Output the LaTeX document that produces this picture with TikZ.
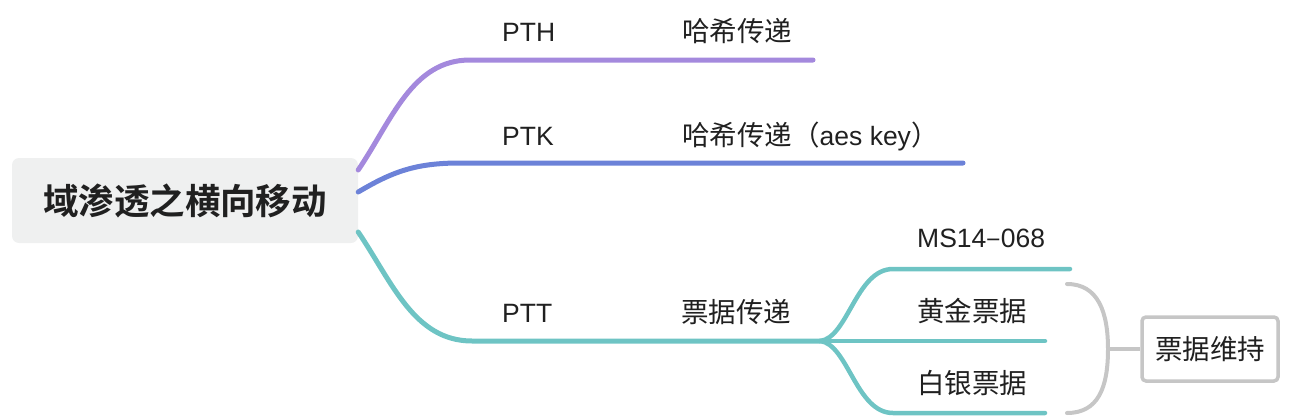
\documentclass[tikz,border=0pt]{standalone}
\usepackage{fontspec}
\setmainfont{Liberation Sans}
\newfontfamily\cjk{Noto Sans CJK SC}
\newfontfamily\cjkb{Noto Sans CJK SC Bold}
\definecolor{cpurple}{RGB}{164,137,221}
\definecolor{cblue}{RGB}{108,130,216}
\definecolor{cteal}{RGB}{110,196,196}
\definecolor{cgrey}{RGB}{198,198,198}
\definecolor{rootfill}{RGB}{239,240,240}
\definecolor{ink}{RGB}{32,32,32}
\begin{document}
\begin{tikzpicture}[x=1pt,y=-1pt,
  lbl/.style={anchor=base west,inner sep=0pt,text=ink,font=\fontsize{26.5}{30}\selectfont},
  cj/.style={font=\cjk\fontsize{27.5}{30}\selectfont},
  branch/.style={line width=5pt,line cap=round,line join=round},
  bracketline/.style={cgrey,line width=4pt,line cap=round}]
\useasboundingbox (0,0) rectangle (1294,418);
% root
\node[fill=rootfill,rounded corners=7pt,minimum width=346pt,minimum height=85pt,inner sep=0pt,
  text=ink,font=\cjkb\fontsize{35.5}{38}\selectfont] (root) at (185,200.5) {域渗透之横向移动};
% labels
\node[lbl] (pth) at (502,41) {PTH};
\node[lbl,cj] (pthd) at (682,41) {哈希传递};
\node[lbl] (ptk) at (502,145) {PTK};
\node[lbl,cj] (ptkd) at (682,145) {哈希传递（{\fontspec{Liberation Sans}\fontsize{26.5}{30}\selectfont aes key}）};
\node[lbl] (ptt) at (502,322) {PTT};
\node[lbl,cj] (pttd) at (681,322) {票据传递};
\node[lbl] (ms) at (917,247) {MS14{\fontsize{27}{30}\selectfont\cjk –}068};
\node[lbl,cj] (gold) at (917,321) {黄金票据};
\node[lbl,cj] (silver) at (917,393) {白银票据};
\node[draw=cgrey,line width=3.5pt,fill=white,rounded corners=4pt,minimum width=136pt,minimum height=64pt,
  inner sep=0pt,text=ink,cj] (keep) at (1210,349) {票据维持};
% coordinates
\coordinate (s1) at (root.east|-0,170);
\coordinate (s2) at (root.east|-0,192);
\coordinate (s3) at (root.east|-0,232);
\coordinate (h1) at (470,60);
\coordinate (e1) at (813,60);
\coordinate (h2) at (460,163);
\coordinate (e2) at (963,163);
\coordinate (h3) at (472,341);
\coordinate (fork) at (820,341);
\coordinate (m1) at (893,269);
\coordinate (me) at (1070,269);
\coordinate (ge) at (1045,341);
\coordinate (m3) at (893,413);
\coordinate (se) at (1045,413);
\coordinate (bt) at (1067,284);
\coordinate (bm) at (1108,349);
\coordinate (bb) at (1067,413);
% branches
\draw[branch,cpurple] (s1) .. controls (392,120) and (412,60) .. (h1) -- (e1);
\draw[branch,cblue] (s2) .. controls (392,172) and (415,163) .. (h2) -- (e2);
\draw[branch,cteal] (s3) .. controls (392,282) and (414,341) .. (h3) -- (fork);
\draw[branch,cteal,line width=4.5pt] (fork) .. controls (848,338) and (856,269) .. (m1) -- (me);
\draw[branch,cteal,line width=4.5pt] (fork) -- (ge);
\draw[branch,cteal,line width=4.5pt] (fork) .. controls (848,344) and (856,413) .. (m3) -- (se);
% bracket
\draw[bracketline] (bt) .. controls (1098,284) and (1108,312) .. (bm) .. controls (1108,388) and (1098,413) .. (bb);
\draw[bracketline,line cap=butt] (bm) -- (keep.west);
\end{tikzpicture}
\end{document}
